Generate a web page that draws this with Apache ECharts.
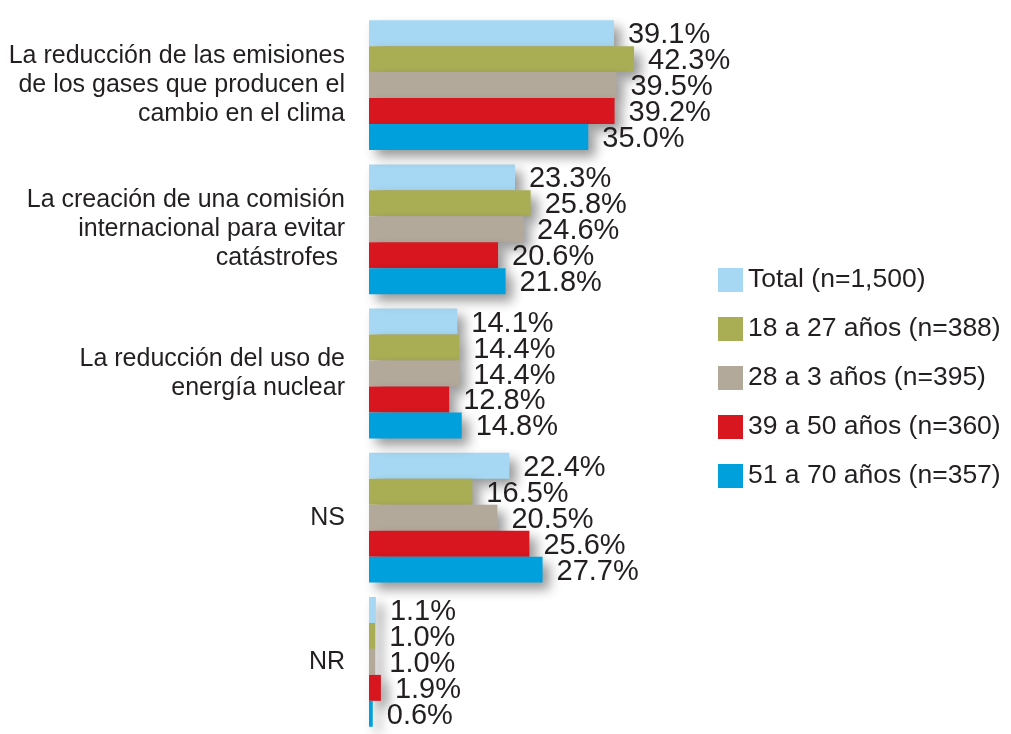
<!DOCTYPE html>
<html><head><meta charset="utf-8">
<script src="https://cdn.jsdelivr.net/npm/echarts@6/dist/echarts.min.js"></script>
<style>html,body{margin:0;padding:0;background:#fff}#c{width:1011px;height:734px}</style>
</head><body><div id="c"></div>
<script>
const categories = [
  "La reducción de las emisiones\nde los gases que producen el\ncambio en el clima",
  "La creación de una comisión\ninternacional para evitar\ncatástrofes ",
  "La reducción del uso de\nenergía nuclear",
  "NS",
  "NR"
];
const seriesNames = ["Total (n=1,500)", "18 a 27 años (n=388)", "28 a 3 años (n=395)", "39 a 50 años (n=360)", "51 a 70 años (n=357)"];
const total   = [39.1, 23.3, 14.1, 22.4, 1.1];
const age1827 = [42.3, 25.8, 14.4, 16.5, 1.0];
const age283  = [39.5, 24.6, 14.4, 20.5, 1.0];
const age3950 = [39.2, 20.6, 12.8, 25.6, 1.9];
const age5170 = [35.0, 21.8, 14.8, 27.7, 0.6];
const colors = ["#a6d8f3", "#a9ad54", "#b3a99b", "#d7161f", "#00a0dc"];

const allData = [total, age1827, age283, age3950, age5170];
const font = "Liberation Sans, Arial, Helvetica, sans-serif";
const chart = echarts.init(document.getElementById('c'));
chart.setOption({
  animation: false,
  color: colors,
  grid: { left: 369, top: 13, height: 725, width: 626.5 },
  xAxis: { type: 'value', min: 0, max: 100, show: false },
  yAxis: {
    type: 'category', data: categories, inverse: true,
    axisLine: { show: false }, axisTick: { show: false },
    axisLabel: { fontFamily: font, fontSize: 25, color: '#231f20', lineHeight: 29, margin: 24, align: 'right' }
  },
  legend: {
    orient: 'vertical', left: 713, top: 261, itemWidth: 25, itemHeight: 24, itemGap: 21,
    icon: 'rect',
    textStyle: { fontFamily: font, fontSize: 26.5, lineHeight: 24, color: '#231f20', padding: [4, 0, 0, 0] },
    data: seriesNames
  },
  series: allData.map((d, i) => ({
    name: seriesNames[i], type: 'bar', data: d,
    barGap: '0%', barCategoryGap: '10%',
    itemStyle: { color: colors[i], shadowBlur: 12, shadowOffsetX: 7, shadowOffsetY: 7, shadowColor: 'rgba(0,0,0,0.4)' },
    label: { show: true, position: 'right', distance: 14, offset: [0, 2], formatter: p => p.value.toFixed(1) + '%',
      fontFamily: font, fontSize: 29, color: '#231f20' }
  }))
});
</script></body></html>
